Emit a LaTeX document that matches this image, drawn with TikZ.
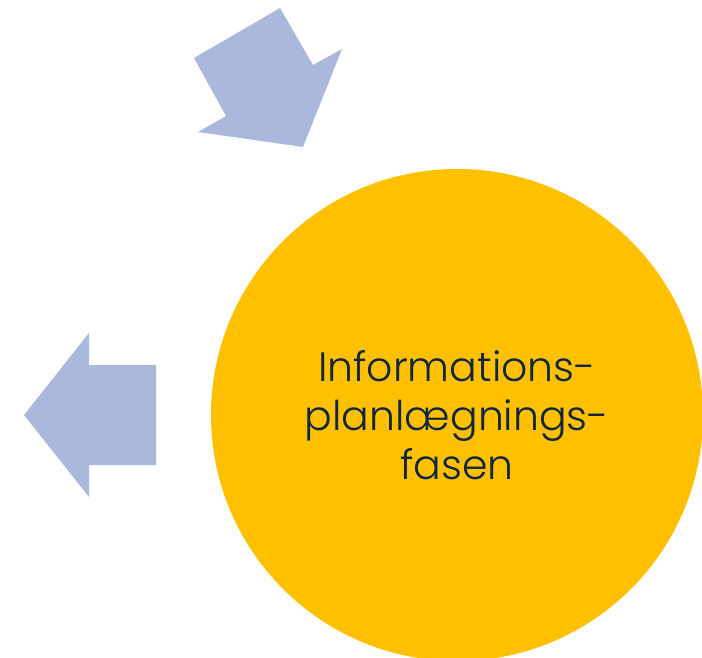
\documentclass[tikz,border=0pt]{standalone}
\usepackage{fontspec}
\setmainfont{Poppins}[UprightFont=* Light]
\usepackage{xcolor}
\definecolor{arrowblue}{HTML}{A9B8DB}
\definecolor{phaseyellow}{HTML}{FFC000}
\definecolor{textnavy}{HTML}{10253F}

\begin{document}
\begin{tikzpicture}[x=1pt,y=-1pt]
\useasboundingbox (0,0) rectangle (702,658);
\clip (0,0) rectangle (702,658);

%% the phase circle
\node [circle, fill=phaseyellow, minimum size=492pt, inner sep=0pt, text=textnavy, align=center, font=\fontsize{41}{49}\selectfont] (fase) at (457,415) {Informations-\\planlægnings-\\fasen};

%% arrow coming in from above
\fill [arrowblue] (194,58) -- (280,8) -- (313,65) -- (342,49) -- (303,147) -- (198,132) -- (226,116) -- cycle;
%% arrow going out to the left
\fill [arrowblue] (24,415) -- (89,333) -- (89,365) -- (156,365) -- (156,465) -- (89,465) -- (89,497) -- cycle;
\end{tikzpicture}
\end{document}
